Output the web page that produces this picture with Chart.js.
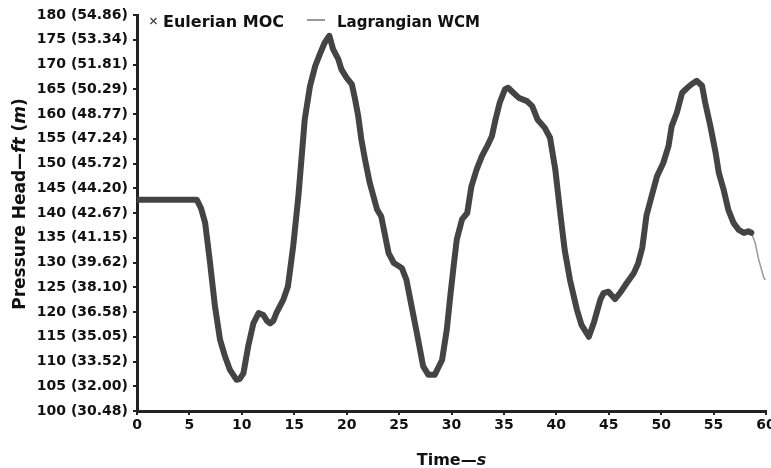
<!DOCTYPE html>
<html><head><meta charset="utf-8">
<script src="https://cdn.jsdelivr.net/npm/chart.js@4.4.1/dist/chart.umd.min.js"></script>
<style>html,body{margin:0;padding:0;background:#fff;}#wrap{width:771px;height:468px;}</style>
</head><body><div id="wrap"><canvas id="c" width="771" height="468"></canvas></div>
<script>
const seriesNames = ['Eulerian MOC', 'Lagrangian WCM'];
const xTicks = [0,5,10,15,20,25,30,35,40,45,50,55,60];
const yTicks = [100,105,110,115,120,125,130,135,140,145,150,155,160,165,170,175,180];
const yTickLabels = ['100 (30.48)','105 (32.00)','110 (33.52)','115 (35.05)','120 (36.58)','125 (38.10)','130 (39.62)','135 (41.15)','140 (42.67)','145 (44.20)','150 (45.72)','155 (47.24)','160 (48.77)','165 (50.29)','170 (51.81)','175 (53.34)','180 (54.86)'];
const xTitleParts = [['Time\u2014',false],['s',true]];
const yTitleParts = [['Pressure Head\u2014',false],['ft',true],[' (',false],['m',true],[')',false]];

const eulerTime = [0,5.7,6.1,6.5,6.97,7.44,7.92,8.4,8.87,9.5,9.8,10.15,10.6,11.1,11.6,12.05,12.4,12.7,13.0,13.3,13.96,14.4,14.9,15.4,16.0,16.5,17.0,17.5,17.9,18.35,18.7,19.2,19.5,20.0,20.5,20.8,21.1,21.4,21.75,22.2,22.9,23.3,24.0,24.5,25.26,25.7,26.2,26.7,27.3,27.8,28.4,29.1,29.55,29.9,30.2,30.5,31.0,31.5,31.9,32.4,32.9,33.4,33.85,34.2,34.6,35.1,35.4,35.9,36.4,37.2,37.7,38.2,38.9,39.4,39.9,40.4,40.8,41.3,41.96,42.4,43.1,43.6,44.2,44.5,44.97,45.6,46.1,46.7,47.4,47.8,48.2,48.6,49.1,49.6,50.2,50.7,51.0,51.5,52.0,52.5,52.9,53.4,53.9,54.2,54.7,55.2,55.5,55.96,56.4,56.9,57.4,57.9,58.3,58.6];
const eulerHead = [142.7,142.7,141.0,138.0,129.9,121.1,114.4,111.0,108.3,106.3,106.5,107.6,113.0,117.7,119.8,119.4,118.2,117.7,118.2,119.8,122.5,125.2,133.3,143.5,158.9,165.6,169.7,172.4,174.4,175.8,173.1,171.1,169.0,167.3,166.0,163.0,159.6,154.9,150.8,146.1,140.7,139.3,131.9,129.9,128.9,126.5,121.1,115.7,109.0,107.3,107.3,110.3,116.4,123.5,129.2,134.6,138.7,140.0,145.4,148.8,151.5,153.5,155.5,158.9,162.3,165.0,165.3,164.3,163.3,162.6,161.6,158.9,157.2,155.2,148.8,139.5,132.5,126.5,120.5,117.4,115.0,118.0,122.5,123.8,124.1,122.6,123.9,125.8,127.9,129.8,133.0,139.5,143.5,147.4,150.1,153.5,157.5,160.3,164.3,165.3,166.0,166.7,165.7,162.3,157.5,152.1,148.1,144.7,140.7,138.0,136.6,136.0,136.3,136.0];
const lagrTailTime = [58.97,59.3,59.8,59.95];
const lagrTailHead = [134.0,130.6,126.9,126.5];
const lagrTime = eulerTime.concat(lagrTailTime);
const lagrHead = eulerHead.concat(lagrTailHead);

const FONT = '"DejaVu Sans", sans-serif';
const TXT = '#111';

function drawMixed(ctx, parts, cx, y, size){
  let total = 0;
  const ws = parts.map(p => { ctx.font = (p[1]?'italic ':'') + 'bold ' + size + 'px ' + FONT; const w = ctx.measureText(p[0]).width; total += w; return w; });
  let x = cx - total/2;
  ctx.textAlign = 'left'; ctx.textBaseline = 'alphabetic'; ctx.fillStyle = TXT;
  parts.forEach((p,i) => { ctx.font = (p[1]?'italic ':'') + 'bold ' + size + 'px ' + FONT; ctx.fillText(p[0], x, y); x += ws[i]; });
}

const annot = {
  id: 'annot',
  afterDraw(chart){
    const ctx = chart.ctx, a = chart.chartArea;
    ctx.save();
    drawMixed(ctx, xTitleParts, (a.left + a.right)/2, 465, 16);
    ctx.save();
    ctx.translate(25, 204); ctx.rotate(-Math.PI/2);
    drawMixed(ctx, yTitleParts, 0, 0, 17);
    ctx.restore();
    // legend
    const ly = 21;
    ctx.strokeStyle = '#444'; ctx.lineWidth = 1.3;
    ctx.beginPath(); ctx.moveTo(150.5, ly-3); ctx.lineTo(156.5, ly+3); ctx.moveTo(156.5, ly-3); ctx.lineTo(150.5, ly+3); ctx.stroke();
    ctx.font = 'bold 16px ' + FONT; ctx.fillStyle = TXT; ctx.textAlign = 'left'; ctx.textBaseline = 'alphabetic';
    ctx.fillText(chart.data.datasets[0].label, 163, 27, 121);
    ctx.strokeStyle = '#999'; ctx.lineWidth = 2;
    ctx.beginPath(); ctx.moveTo(307, 20); ctx.lineTo(325, 20); ctx.stroke();
    ctx.fillText(chart.data.datasets[1].label, 337, 27, 143);
    ctx.restore();
  }
};

new Chart(document.getElementById('c'), {
  type: 'line',
  data: {
    datasets: [
      { label: seriesNames[0], data: eulerTime.map((t,i)=>({x:t, y:eulerHead[i]})), borderColor:'#444', borderWidth:6, pointRadius:0, tension:0, borderJoinStyle:'round', borderCapStyle:'round', fill:false },
      { label: seriesNames[1], data: lagrTime.map((t,i)=>({x:t, y:lagrHead[i]})), borderColor:'#999', borderWidth:1.5, pointRadius:0, tension:0, fill:false }
    ]
  },
  options: {
    responsive:false, animation:false, devicePixelRatio:1,
    layout:{padding:{top:15,right:5,left:0,bottom:0}},
    plugins:{legend:{display:false}, tooltip:{enabled:false}},
    scales:{
      x:{ type:'linear', min:0, max:60,
        afterBuildTicks: s => { s.ticks = xTicks.map(v => ({value:v})); },
        ticks:{ autoSkip:false, maxRotation:0, padding:2, color:TXT, font:{family:FONT, weight:'bold', size:14}, callback: v => String(v) },
        grid:{ drawOnChartArea:false, tickLength:4, lineWidth:2, color:'#222' },
        border:{ display:true, width:3, color:'#222' },
        afterFit: s => { s.height = 57; s.paddingLeft = 0; s.paddingRight = 0; }
      },
      y:{ type:'linear', min:100, max:180,
        afterBuildTicks: s => { s.ticks = yTicks.map(v => ({value:v})); },
        ticks:{ autoSkip:false, padding:5, color:TXT, font:{family:FONT, weight:'bold', size:14}, callback: v => yTickLabels[yTicks.indexOf(v)] },
        grid:{ drawOnChartArea:false, tickLength:4, lineWidth:2, color:'#222' },
        border:{ display:true, width:3, color:'#222' },
        afterFit: s => { s.width = 137; s.paddingTop = 0; s.paddingBottom = 0; }
      }
    }
  },
  plugins:[annot]
});
</script></body></html>
